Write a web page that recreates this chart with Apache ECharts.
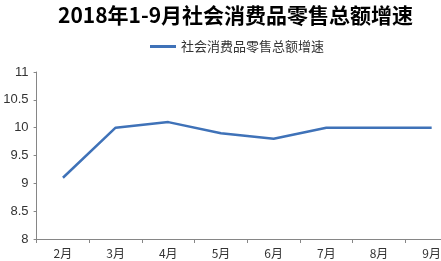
<!DOCTYPE html>
<html><head><meta charset="utf-8">
<script src="https://cdn.jsdelivr.net/npm/echarts@6/dist/echarts.min.js"></script>
<style>html,body{margin:0;padding:0;background:#fff}#c{width:441px;height:261px}</style>
</head><body><div id="c"></div>
<script>
const categories = ['2月','3月','4月','5月','6月','7月','8月','9月'];
const seriesName = '社会消费品零售总额增速';
const values = [9.1, 10.0, 10.1, 9.9, 9.8, 10.0, 10.0, 10.0];
const yTicks = [8, 8.5, 9, 9.5, 10, 10.5, 11];

const chart = echarts.init(document.getElementById('c'), null, {renderer:'canvas'});
chart.setOption({
  animation: false,
  title: {
    text: '2018年1-9月社会消费品零售总额增速',
    left: 53, top: 0,
    textStyle: {fontFamily: 'Noto Sans CJK SC', fontSize: 21, fontWeight: 'bold', color: '#000'}
  },
  legend: {
    data: [seriesName], top: 35, left: 145,
    itemWidth: 26, itemHeight: 3, itemGap: 3,
    icon: 'rect',
    textStyle: {fontFamily: 'Noto Sans CJK SC', fontSize: 13, color: '#333'}
  },
  grid: {left: 36.6, right: -17, top: 72, bottom: 22, containLabel: false, outerBoundsMode: 'none'},
  xAxis: {
    type: 'category', data: categories, boundaryGap: true,
    axisLine: {lineStyle: {color: '#868686', width: 1}},
    axisTick: {show: true, length: 4, lineStyle: {color: '#868686'}},
    axisLabel: {fontFamily: 'Noto Sans CJK SC', fontSize: 12, color: '#333', margin: 8}
  },
  yAxis: {
    type: 'value', min: yTicks[0], max: yTicks[yTicks.length-1], interval: 0.5,
    axisLine: {show: true, lineStyle: {color: '#868686', width: 1}},
    axisTick: {show: true, length: 3, lineStyle: {color: '#868686'}},
    splitLine: {show: false},
    axisLabel: {fontFamily: 'Liberation Sans', fontSize: 13, color: '#333', margin: 8}
  },
  series: [{
    name: seriesName, type: 'line', data: values,
    symbol: 'none', lineStyle: {color: '#3F72B8', width: 2.5},
    itemStyle: {color: '#3F72B8'}
  }]
});
</script></body></html>
